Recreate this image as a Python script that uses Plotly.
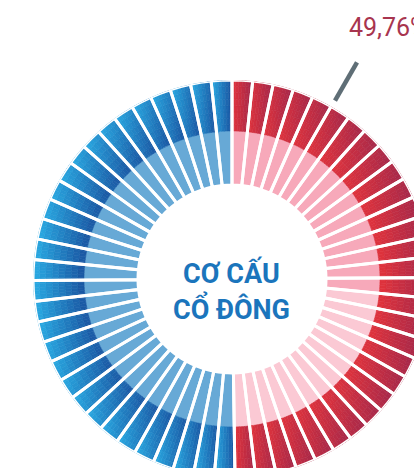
import numpy as np
import plotly.graph_objects as go

# ---------------- data ----------------
group_names = ["Nhóm đỏ", "Nhóm xanh"]
shares = [49.76, 50.24]              # percent of the ring
segment_counts = [30, 30]            # number of spokes per half
value_labels = ["49,76%", "50,24%"]
label_theta = [30, None]             # leader-line angle (only red visible)
center_lines = ["CƠ CẤU", "CỔ ĐÔNG"]
red_inner_dark_count = 16            # first spokes with deeper pink inner ring

# ---------------- style ----------------
W, H = 440, 480
CX, CY = 232, 279                    # ring centre in pixels (from top-left)
R_IN, R_MID, R_OUT = 94, 148, 199
outer_light = ["#e3343c", "#2aace4"]
outer_dark = ["#a3284b", "#1a53a0"]
inner_cols = [["#f7a9ba", "#fbc9d4"], ["#67a9d6", "#67a9d6"]]
NA, NR = 6, 8


def hex2rgb(h):
    h = h.lstrip("#")
    return np.array([int(h[i:i + 2], 16) for i in (0, 2, 4)], float)


def lerp(c1, c2, t):
    a, b = hex2rgb(c1), hex2rgb(c2)
    c = a + (b - a) * t
    return "rgb(%d,%d,%d)" % tuple(np.round(c).astype(int))


sub_r, sub_base, sub_theta, sub_width, sub_col = [], [], [], [], []
seg_theta, seg_width, inner_col = [], [], []

start = 0.0
for g, (share, n) in enumerate(zip(shares, segment_counts)):
    span = share * 3.6
    w = span / n
    for i in range(n):
        s0 = start + i * w
        seg_theta.append(s0 + w / 2)
        seg_width.append(w)
        if g == 0:
            inner_col.append(inner_cols[0][0] if i < red_inner_dark_count else inner_cols[0][1])
        else:
            inner_col.append(inner_cols[1][0])
        # horizontal extent of the outer wedge (for the per-spoke gradient)
        tt = np.radians(np.linspace(s0, s0 + w, 40))
        xs = np.concatenate([R_MID * np.sin(tt), R_OUT * np.sin(tt)])
        xmin, xmax = xs.min(), xs.max()
        dr = (R_OUT - R_MID) / NR
        for ia in range(NA):
            th = s0 + (ia + 0.5) * w / NA
            for ir in range(NR):
                r0 = R_MID + ir * dr
                x = (r0 + dr / 2) * np.sin(np.radians(th))
                t = (x - xmin) / (xmax - xmin)
                sub_r.append(dr)
                sub_base.append(r0)
                sub_theta.append(th)
                sub_width.append(w / NA)
                sub_col.append(lerp(outer_light[g], outer_dark[g], float(np.clip(t, 0, 1))))
    start += span

fig = go.Figure()

# inner light ring
fig.add_trace(go.Barpolar(
    r=[R_MID - R_IN] * len(seg_theta), base=[R_IN] * len(seg_theta),
    theta=seg_theta, width=seg_width,
    marker=dict(color=inner_col, line=dict(color=inner_col, width=0.5)),
    hoverinfo="skip"))

# outer gradient ring
fig.add_trace(go.Barpolar(
    r=sub_r, base=sub_base, theta=sub_theta, width=sub_width,
    marker=dict(color=sub_col, line=dict(color=sub_col, width=0.6)),
    hoverinfo="skip"))

# white separators
fig.add_trace(go.Barpolar(
    r=[R_OUT - R_IN] * len(seg_theta), base=[R_IN] * len(seg_theta),
    theta=seg_theta, width=seg_width,
    marker=dict(color="rgba(0,0,0,0)", line=dict(color="white", width=3)),
    hoverinfo="skip"))

# leader line for the red share (pixel-space overlay axes)
ang = np.radians(label_theta[0])
lr = np.array([R_OUT + 7, R_OUT + 51])
fig.add_trace(go.Scatter(
    x=CX + lr * np.sin(ang), y=CY - lr * np.cos(ang), mode="lines",
    line=dict(color="#5f6e76", width=4.5), hoverinfo="skip",
    xaxis="x", yaxis="y"))

fig.add_annotation(x=347 / W, y=1 - 27 / H, xref="paper", yref="paper",
                   text=value_labels[0], showarrow=False, xanchor="left", yanchor="middle",
                   font=dict(family="Roboto", size=25, color="#a8354f"))

for line, yc in zip(center_lines, [273, 308]):
    fig.add_annotation(x=CX / W, y=1 - yc / H, xref="paper", yref="paper",
                       text="<b>%s</b>" % line, showarrow=False,
                       xanchor="center", yanchor="middle",
                       font=dict(family="Roboto", size=27, color="#1b75bc"))

fig.update_layout(
    width=W, height=H, margin=dict(l=0, r=0, t=0, b=0),
    paper_bgcolor="white", plot_bgcolor="rgba(0,0,0,0)", showlegend=False,
    xaxis=dict(domain=[0, 1], range=[0, W], visible=False, fixedrange=True),
    yaxis=dict(domain=[0, 1], range=[H, 0], visible=False, fixedrange=True),
    polar=dict(
        domain=dict(x=[(CX - R_OUT) / W, (CX + R_OUT) / W],
                    y=[(H - CY - R_OUT) / H, (H - CY + R_OUT) / H]),
        bgcolor="rgba(0,0,0,0)", barmode="overlay", bargap=0,
        radialaxis=dict(visible=False, range=[0, R_OUT]),
        angularaxis=dict(visible=False, rotation=90, direction="clockwise"),
    ),
)

fig.write_html("out.html", config={"displayModeBar": False},
               post_script="document.body.style.margin='0';document.body.style.overflow='hidden';")
